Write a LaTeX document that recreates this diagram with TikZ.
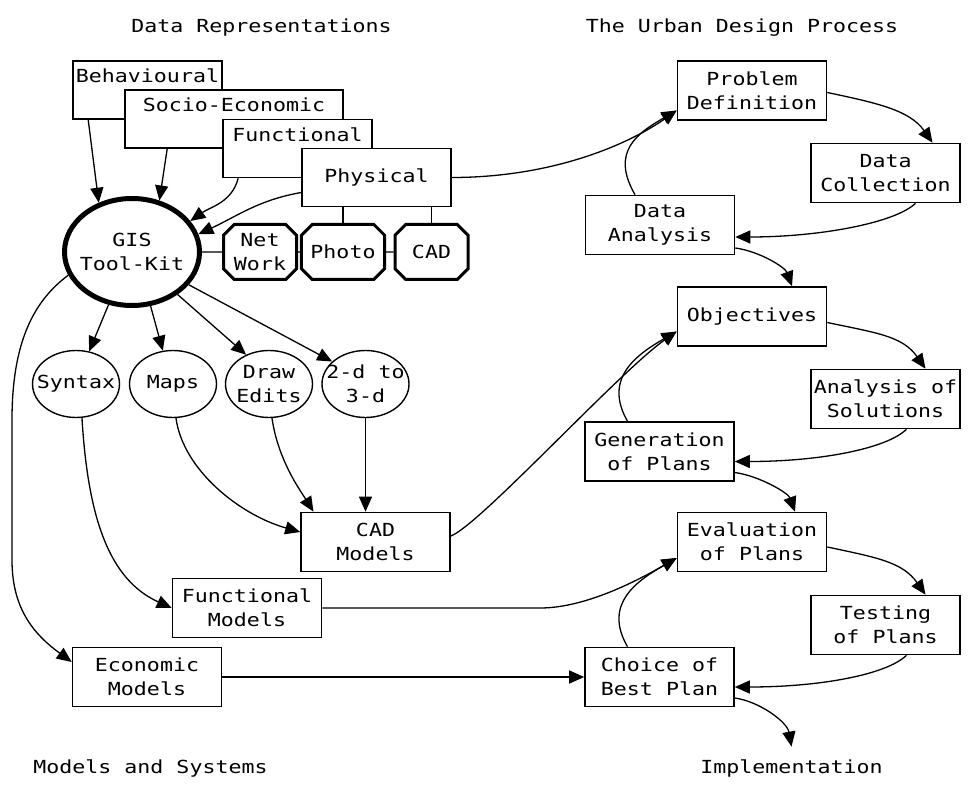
\documentclass[tikz,border=0pt]{standalone}
\usepackage{fontspec}
\setmainfont[FakeStretch=1.2]{DejaVu Sans Mono}
\usetikzlibrary{positioning}
\usetikzlibrary{arrows.meta}
\usetikzlibrary{shapes}
\tikzset{
        treetext/.style={font=\fontsize{18}{24}\selectfont, align=center, inner sep=2pt},
        % Plain boxes
        node_box/.style={treetext, rectangle, draw=black, line width=1.6pt, fill=white, minimum width=149pt, minimum height=59pt, inner sep=0pt},
        % Stacked data layers
        node_layer/.style={node_box, minimum height=58pt},
        % Thick tool-kit ellipse
        node_gis/.style={ellipse, draw=black, line width=5pt, fill=white, minimum width=135pt, minimum height=107pt},
        % Tool circles
        node_tool/.style={ellipse, draw=black, line width=1.4pt, fill=white, minimum width=87pt, minimum height=67pt},
        % Chamfered data boxes
        node_data/.style={treetext, chamfered rectangle, chamfered rectangle xsep=7pt, draw=black, line width=3pt, fill=white, minimum width=73pt, minimum height=55pt},
        % Headings
        node_title/.style={treetext}
}
\begin{document}
\begin{tikzpicture}[x=1pt, y=1pt, >={Triangle[length=15pt, width=13pt]}, line width=1.3pt]
    \useasboundingbox (0,0) rectangle (969,788);

    % Headings
    \node[node_title] (title_data) at (261.5,760) {Data Representations};
    \node[node_title] (title_design) at (742,760) {The Urban Design Process};
    \node[node_title] (title_models) at (150.5,20) {Models and Systems};
    \node[node_title] (impl) at (791.5,20) {Implementation};

    % Data layers
    \node[node_layer] (behav) at (147.5,698) {};
    \node[treetext, below=6pt of behav.north] (behav_text) {Behavioural};
    \node[node_layer, minimum width=218pt] (socio) at (234,669) {};
    \node[treetext, below=6pt of socio.north] (socio_text) {Socio-Economic};
    \node[node_layer] (funct) at (297.5,639.5) {};
    \node[treetext, below=6pt of funct.north] (funct_text) {Functional};
    \node[node_layer] (phys) at (376.5,610.5) {Physical};

    % Tool-kit and data sources
    \node[node_gis, label={[treetext]center:GIS\\Tool-Kit}] (gis) at (132,536) {};
    \node[node_data] (net) at (260,536) {Net\\Work};
    \node[node_data] (photo) at (343,536) {Photo};
    \node[node_data] (cad_data) at (431.5,536) {CAD};

    % Tools
    \node[node_tool, label={[treetext]center:Syntax}] (syntax) at (76,404) {};
    \node[node_tool, label={[treetext]center:Maps}] (maps) at (173,404) {};
    \node[node_tool, label={[treetext]center:Draw\\Edits}] (edits) at (269,404) {};
    \node[node_tool, label={[treetext]center:2-d to\\3-d}] (twod) at (365.5,404) {};

    % Models
    \node[node_box] (cad_models) at (375.5,246) {CAD\\Models};
    \node[node_box] (func_models) at (247,180) {Functional\\Models};
    \node[node_box] (econ_models) at (147,111) {Economic\\Models};

    % Design process
    \node[node_box] (problem) at (752,697.5) {Problem\\Definition};
    \node[node_box] (collect) at (885.5,615) {Data\\Collection};
    \node[node_box] (analysis) at (660,563) {Data\\Analysis};
    \node[node_box] (objectives) at (752,471.5) {Objectives};
    \node[node_box] (solutions) at (885.5,389) {Analysis of\\Solutions};
    \node[node_box] (generation) at (659.5,336.5) {Generation\\of Plans};
    \node[node_box] (evaluation) at (752,246) {Evaluation\\of Plans};
    \node[node_box] (testing) at (885.5,163) {Testing\\of Plans};
    \node[node_box] (choice) at (659.5,111) {Choice of\\Best Plan};

    % Links between tool-kit and sources
    \draw (gis) -- (net);
    \draw (net) -- (photo);
    \draw (photo) -- (cad_data);
    \draw (photo.north) -- (photo.north |- phys.south);
    \draw (cad_data.north) -- (cad_data.north |- phys.south);

    % Layers into the tool-kit
    \draw[->] ([xshift=16pt]behav.south west) -- (gis.124);
    \draw[->] ([xshift=43pt]socio.south west) -- (gis.62);
    \draw[->] ([xshift=16pt]funct.south west) to[out=255, in=35] (gis.28);
    \draw[->] ([yshift=-15pt]phys.west) to[out=190, in=25] (gis.15);

    % Tool-kit to tools
    \draw[->] (gis.246) -- (syntax.68);
    \draw[->] (gis.289) -- (maps.107);
    \draw[->] (gis.317) -- (edits.128);
    \draw[->] (gis.330) -- (twod.146);
    \draw[->] (gis.200) .. controls (35,488) and (12,448) .. (12,368) -- (12,228)
        .. controls (12,178) and (35,153) .. ([yshift=15pt]econ_models.west);

    % Tools to models
    \draw[->] (syntax.280) .. controls (88,268) and (110,208) .. (func_models.west);
    \draw[->] (maps.275) .. controls (183,318) and (240,273) .. ([yshift=10pt]cad_models.west);
    \draw[->] (edits.275) .. controls (278,328) and (300,298) .. ([xshift=-62pt]cad_models.north);
    \draw[->] (twod) -- (twod |- cad_models.north);

    % Models into the design process
    \draw[->] (phys.east) to[out=0, in=215, out distance=100pt, in distance=60pt] ([yshift=-20pt]problem.west);
    \draw[->] ([yshift=6pt]cad_models.east) to[out=20, in=215, out distance=30pt, in distance=70pt] ([yshift=-15pt]objectives.west);
    \draw[->] (func_models.east) -- ++(218,0) to[out=0, in=210, out distance=45pt, in distance=45pt] ([yshift=-16pt]evaluation.west);
    \draw[->] (econ_models) -- (choice);

    % Design cycles
    \draw[->] ([xshift=-25pt]analysis.north) to[out=120, in=210, out distance=50pt, in distance=45pt] ([yshift=-20pt]problem.west);
    \draw[->] ([yshift=-2pt]problem.east) to[out=-12, in=125, out distance=50pt, in distance=40pt] ([xshift=47pt]collect.north);
    \draw[->] ([xshift=30pt]collect.south) to[out=224, in=0, out distance=28pt, in distance=85pt] ([yshift=-12pt]analysis.east);
    \draw[->] ([yshift=-23pt]analysis.east) to[out=-8, in=110, out distance=25pt, in distance=20pt] ([xshift=40pt]objectives.north);

    \draw[->] ([xshift=-32pt]generation.north) to[out=120, in=210, out distance=50pt, in distance=45pt] ([yshift=-15pt]objectives.west);
    \draw[->] ([yshift=-6pt]objectives.east) to[out=-12, in=125, out distance=50pt, in distance=40pt] ([xshift=40pt]solutions.north);
    \draw[->] ([xshift=21pt]solutions.south) to[out=224, in=0, out distance=28pt, in distance=85pt] ([yshift=-10pt]generation.east);
    \draw[->] ([yshift=-21pt]generation.east) to[out=-8, in=110, out distance=25pt, in distance=20pt] ([xshift=43pt]evaluation.north);

    \draw[->] ([xshift=-32pt]choice.north) to[out=120, in=210, out distance=50pt, in distance=45pt] ([yshift=-16pt]evaluation.west);
    \draw[->] ([yshift=-5pt]evaluation.east) to[out=-12, in=125, out distance=50pt, in distance=40pt] ([xshift=40pt]testing.north);
    \draw[->] ([xshift=21pt]testing.south) to[out=224, in=0, out distance=28pt, in distance=85pt] ([yshift=-10pt]choice.east);
    \draw[->] ([yshift=-21pt]choice.east) to[out=-8, in=100, out distance=25pt, in distance=25pt] ([yshift=10pt]impl.north);
\end{tikzpicture}
\end{document}
